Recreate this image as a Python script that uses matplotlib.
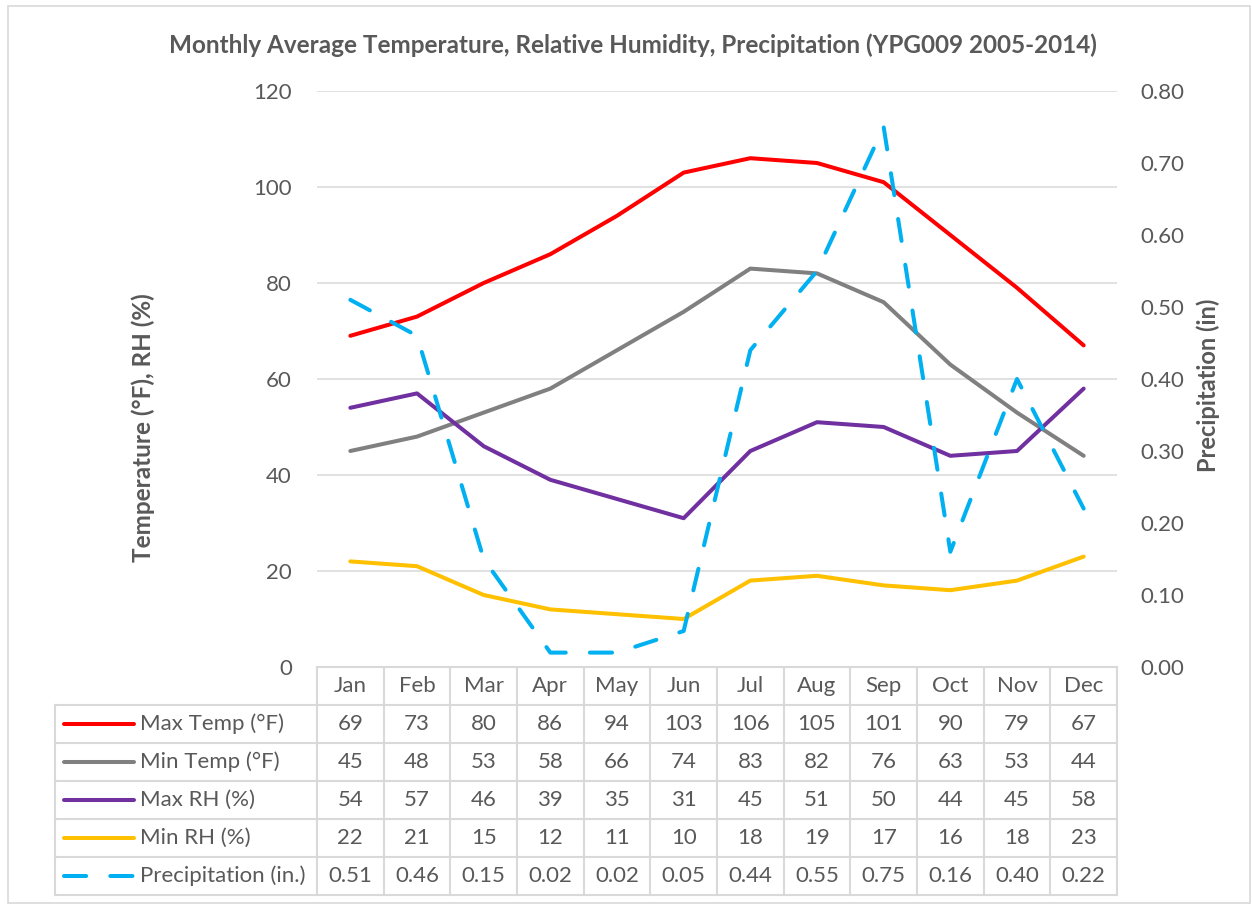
#!/usr/bin/env python3
"""Monthly temperature / RH / precipitation line chart with an Excel-style data table below."""

import matplotlib

matplotlib.use("Agg")
import matplotlib.pyplot as plt
import numpy as np
from matplotlib.patches import Rectangle
from matplotlib.lines import Line2D

plt.rcParams["font.family"] = ["Lato", "DejaVu Sans"]

TITLE = "Monthly Average Temperature, Relative Humidity, Precipitation (YPG009 2005-2014)"
MONTHS = ["Jan", "Feb", "Mar", "Apr", "May", "Jun", "Jul", "Aug", "Sep", "Oct", "Nov", "Dec"]

max_temp = [69, 73, 80, 86, 94, 103, 106, 105, 101, 90, 79, 67]
min_temp = [45, 48, 53, 58, 66, 74, 83, 82, 76, 63, 53, 44]
max_rh = [54, 57, 46, 39, 35, 31, 45, 51, 50, 44, 45, 58]
min_rh = [22, 21, 15, 12, 11, 10, 18, 19, 17, 16, 18, 23]
precip = [0.51, 0.46, 0.15, 0.02, 0.02, 0.05, 0.44, 0.55, 0.75, 0.16, 0.40, 0.22]

SERIES_NAMES = ["Max Temp (°F)", "Min Temp (°F)", "Max RH (%)", "Min RH (%)", "Precipitation (in.)"]
SERIES_COLORS = ["#ff0000", "#808080", "#7030a0", "#ffc000", "#00b0f0"]

TEXT = "#595959"
GRID = "#d9d9d9"
W, H = 1252, 905
LW = 2.9
DASH = (5.5, 6.0)
FS = 16


def fx(px):
    return px / W


def fy(py):
    return 1 - py / H


fig = plt.figure(figsize=(W / 100, H / 100), dpi=100)

# chart-area border
fig.patches.append(
    Rectangle((fx(8), fy(903)), fx(1250) - fx(8), fy(6) - fy(903),
              transform=fig.transFigure, fill=False, edgecolor=GRID, linewidth=1.2)
)

ax = fig.add_axes([fx(317), fy(667), fx(1117) - fx(317), fy(91) - fy(667)])
x = np.arange(len(MONTHS))
for vals, color in zip([max_temp, min_temp, max_rh, min_rh], SERIES_COLORS):
    ax.plot(x, vals, color=color, lw=LW, solid_capstyle="round", solid_joinstyle="round", zorder=3)
ax.set_xlim(-0.5, 11.5)
ax.set_ylim(0, 120)
ax.set_yticks(range(0, 121, 20))
ax.set_xticks([])
ax.grid(axis="y", color=GRID, lw=1.1)
ax.set_axisbelow(True)
for s in ax.spines.values():
    s.set_visible(False)
ax.tick_params(axis="y", length=0, pad=18, labelsize=FS, labelcolor=TEXT)

ax2 = ax.twinx()
ax2.plot(x, precip, color=SERIES_COLORS[4], lw=LW, dashes=DASH, dash_capstyle="round", zorder=4)
ax2.set_ylim(0, 0.8)
ax2.set_yticks(np.arange(0, 0.81, 0.1))
ax2.set_yticklabels([f"{v:.2f}" for v in np.arange(0, 0.81, 0.1)])
for s in ax2.spines.values():
    s.set_visible(False)
ax2.tick_params(axis="y", length=0, pad=17, labelsize=FS, labelcolor=TEXT)

fig.text(fx(633), fy(45), TITLE, ha="center", va="center", fontsize=17.5, fontweight="bold", color=TEXT)
fig.text(fx(143), fy(428), "Temperature (°F), RH (%)", ha="center", va="center", rotation=90,
         fontsize=17.5, fontweight="bold", color=TEXT)
fig.text(fx(1208), fy(385), "Precipitation (in)", ha="center", va="center", rotation=90,
         fontsize=17, fontweight="bold", color=TEXT)

# data table under the plot
tax = fig.add_axes([fx(55), fy(895), fx(1117) - fx(55), fy(667) - fy(895)])
left = (55 - 317) / ((1117 - 317) / 12) - 0.5
tax.set_xlim(left, 11.5)
tax.set_ylim(6, 0)
tax.axis("off")

tkw = dict(color=GRID, lw=1.5, clip_on=False)
tax.plot([-0.5, 11.5], [0, 0], **tkw)
for r in range(1, 7):
    tax.plot([left, 11.5], [r, r], **tkw)
tax.plot([left, left], [1, 6], **tkw)
for k in range(13):
    tax.plot([k - 0.5, k - 0.5], [0, 6], **tkw)

for i, m in enumerate(MONTHS):
    tax.text(i, 0.5, m, ha="center", va="center", fontsize=FS, color=TEXT)

rows = [
    [str(v) for v in max_temp],
    [str(v) for v in min_temp],
    [str(v) for v in max_rh],
    [str(v) for v in min_rh],
    [f"{v:.2f}" for v in precip],
]
for r, (name, color, vals) in enumerate(zip(SERIES_NAMES, SERIES_COLORS, rows), start=1):
    yc = r + 0.5
    style = dict(dashes=DASH, dash_capstyle="round") if r == 5 else dict(solid_capstyle="round")
    tax.add_line(Line2D([left + 0.14, left + 1.18], [yc, yc], color=color, lw=LW, **style))
    tax.text(left + 1.27, yc, name, ha="left", va="center", fontsize=FS, color=TEXT)
    for i, v in enumerate(vals):
        tax.text(i, yc, v, ha="center", va="center", fontsize=FS, color=TEXT)

fig.savefig("out.png", dpi=100)
